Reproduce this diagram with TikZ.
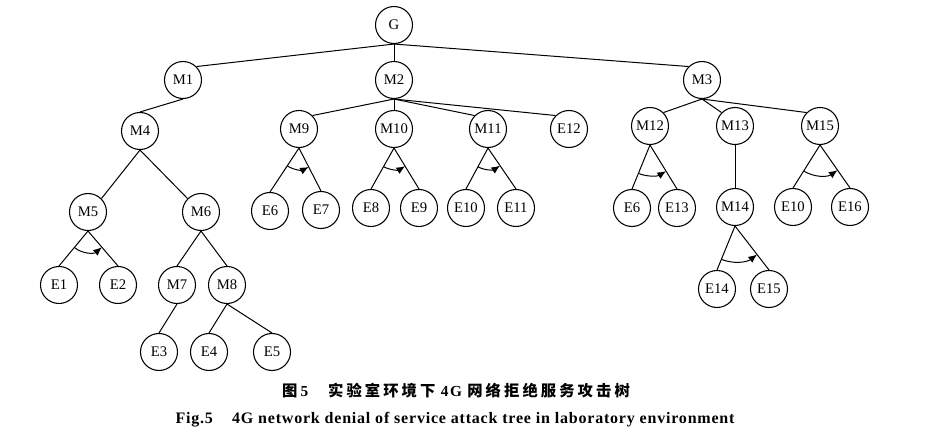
\documentclass[tikz,border=0pt]{standalone}
\usepackage{fontspec}
\setmainfont{Liberation Serif}
\newfontfamily\cjk{Noto Sans CJK SC}[LetterSpace=20]
\usetikzlibrary{calc,arrows.meta}
\def\andarc(#1)(#2)(#3:#4){\draw[andarrow] let \p1=($(#2.north)-(#1.south)$), \p2=($(#3.north)-(#1.south)$), \n1={atan2(\y1,\x1)}, \n2={atan2(\y2,\x2)} in ($(#1.south)+(\n1:#4)$) arc[start angle=\n1, end angle=\n2, radius=#4];}
\tikzset{
	atk/.style={draw, circle, minimum size=27.75pt, inner sep=0pt, line width=0.8pt, font=\fontsize{11}{13}\selectfont},
	tie/.style={line width=0.75pt},
	andarrow/.style={line width=0.75pt, -{Latex[length=6.5pt,width=5.5pt]}}
}

\begin{document}
\begin{tikzpicture}[x=0.75pt, y=-0.75pt]
				%%%%% START %%%%%
				\def\rsm{16pt}
				\def\rmd{23pt}
				\def\rlg{27pt}

				\useasboundingbox (0,0) rectangle (931,441);

				\node[atk] (G) at (394,25) {G};

				\node[atk] (M1) at (183,80) {M1};
				\node[atk] (M2) at (394,80) {M2};
				\node[atk] (M3) at (702,80) {M3};

				\node[atk] (M4) at (140,131) {M4};
				\node[atk] (M9) at (299,129) {M9};
				\node[atk] (M10) at (394,129) {M10};
				\node[atk] (M11) at (488,129) {M11};
				\node[atk] (E12) at (569,129) {E12};
				\node[atk] (M12) at (650,126) {M12};
				\node[atk] (M13) at (735,126) {M13};
				\node[atk] (M15) at (820,126) {M15};

				\node[atk] (M5) at (88,212) {M5};
				\node[atk] (M6) at (201,212) {M6};
				\node[atk] (E6a) at (270,211) {E6};
				\node[atk] (E7) at (321,210) {E7};
				\node[atk] (E8) at (371,208) {E8};
				\node[atk] (E9) at (419,208) {E9};
				\node[atk] (E10a) at (466,208) {E10};
				\node[atk] (E11) at (516,208) {E11};
				\node[atk] (E6b) at (632,208) {E6};
				\node[atk] (E13) at (677,208) {E13};
				\node[atk] (M14) at (735,207) {M14};
				\node[atk] (E10b) at (793,207) {E10};
				\node[atk] (E16) at (850,207) {E16};

				\node[atk] (E1) at (59,285) {E1};
				\node[atk] (E2) at (118,285) {E2};
				\node[atk] (M7) at (177,285) {M7};
				\node[atk] (M8) at (227,285) {M8};
				\node[atk] (E14) at (717,289) {E14};
				\node[atk] (E15) at (769,289) {E15};

				\node[atk] (E3) at (159,352) {E3};
				\node[atk] (E4) at (209,352) {E4};
				\node[atk] (E5) at (272,352) {E5};

				\draw[tie] (G.south) -- (M1.north east);
				\draw[tie] (G.south) -- (M2.north);
				\draw[tie] (G.south) -- (M3.north west);

				\draw[tie] (M1.south) -- (M4.north);
				\draw[tie] (M2.south) -- (M9.north east);
				\draw[tie] (M2.south) -- (M10.north);
				\draw[tie] (M2.south) -- (M11.north west);
				\draw[tie] (M2.south) -- (E12.north west);
				\draw[tie] (M3.south) -- (M12.north east);
				\draw[tie] (M3.south) -- (M13.north west);
				\draw[tie] (M3.south) -- (M15.north west);

				\draw[tie] (M4.south) -- (M5.north east);
				\draw[tie] (M4.south) -- (M6.north west);
				\draw[tie] (M9.south) -- (E6a.north);
				\draw[tie] (M9.south) -- (E7.north);
				\draw[tie] (M10.south) -- (E8.north);
				\draw[tie] (M10.south) -- (E9.north);
				\draw[tie] (M11.south) -- (E10a.north);
				\draw[tie] (M11.south) -- (E11.north);
				\draw[tie] (M12.south) -- (E6b.north);
				\draw[tie] (M12.south) -- (E13.north);
				\draw[tie] (M13.south) -- (M14.north);
				\draw[tie] (M15.south) -- (E10b.north);
				\draw[tie] (M15.south) -- (E16.north);

				\draw[tie] (M5.south) -- (E1.north);
				\draw[tie] (M5.south) -- (E2.north);
				\draw[tie] (M6.south) -- (M7.north);
				\draw[tie] (M6.south) -- (M8.north);
				\draw[tie] (M14.south) -- (E14.north);
				\draw[tie] (M14.south) -- (E15.north);

				\draw[tie] (M7.south) -- (E3.north);
				\draw[tie] (M8.south) -- (E4.north);
				\draw[tie] (M8.south) -- (E5.north);

				\andarc(M5)(E1)(E2:\rsm)
				\andarc(M9)(E6a)(E7:\rsm)
				\andarc(M10)(E8)(E9:\rsm)
				\andarc(M11)(E10a)(E11:\rsm)
				\andarc(M12)(E6b)(E13:\rmd)
				\andarc(M15)(E10b)(E16:\rmd)
				\andarc(M14)(E14)(E15:\rlg)

				\node[font=\fontsize{11.5}{13}\selectfont\addfontfeatures{LetterSpace=10}] (capcn) at (456,391) {{\cjk\bfseries 图}\textbf{5}\hspace{1.2em}{\cjk\bfseries 实验室环境下}\hspace{0.15em}\textbf{4G}\hspace{0.25em}{\cjk\bfseries 网络拒绝服务攻击树}};
				\node[font=\fontsize{12}{14}\selectfont\bfseries\addfontfeatures{LetterSpace=5}] (capen) at (455,420) {Fig.5\hspace{1.2em}4G network denial of service attack tree in laboratory environment};
				%%%%% START %%%%%
			\end{tikzpicture}
\end{document}
